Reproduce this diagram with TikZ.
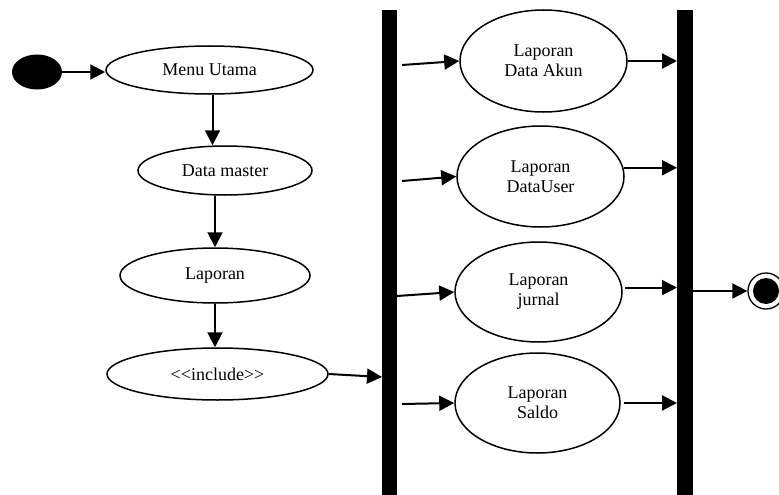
\documentclass[tikz,border=0pt]{standalone}
\usepackage{fontspec}
\setmainfont{Liberation Serif}
\usetikzlibrary{shapes.geometric,arrows.meta}
\begin{document}
\begin{tikzpicture}[x=1pt,y=-1pt,
  uc/.style={ellipse, draw, line width=1.5pt, inner sep=0pt, align=center,
    font=\fontsize{18}{20}\selectfont},
  arr/.style={line width=2pt, -{Triangle[length=15pt,width=15pt]}},
  barbox/.style={fill=black, inner sep=0pt, outer sep=0pt, minimum width=15pt, minimum height=485pt}]
\useasboundingbox[fill=white] (0,0) rectangle (779,495);
% start / end
\node[ellipse, fill=black, minimum width=50pt, minimum height=35pt, inner sep=0pt] (start) at (37,72) {};
\node[circle, draw, line width=1.3pt, minimum size=36pt, inner sep=0pt] (end) at (766,291) {};
\fill (end.center) circle (13);
% left column
\node[uc, minimum width=207pt, minimum height=48pt] (menu) at (209.5,70) {Menu Utama};
\node[uc, minimum width=174pt, minimum height=49pt] (master) at (225,170.5) {Data master};
\node[uc, minimum width=190pt, minimum height=55pt] (lap) at (215,275.5) {Laporan};
\node[uc, minimum width=221pt, minimum height=52pt] (incl) at (217.5,374) {<{}<include>{}>};
% bars
\node[barbox] (bar1) at (389.5,252.5) {};
\node[barbox, minimum width=16pt] (bar2) at (685,252.5) {};
% right column
\node[uc, minimum width=167pt, minimum height=102pt] (akun) at (543.5,61) {Laporan\\Data Akun};
\node[uc, minimum width=167pt, minimum height=101pt] (user) at (540.5,176.5) {Laporan\\DataUser};
\node[uc, minimum width=167pt, minimum height=100pt] (jurnal) at (538.5,292) {Laporan\\jurnal};
\node[uc, minimum width=165pt, minimum height=100pt] (saldo) at (537.5,403) {Laporan\\Saldo};
% free ends on bars
\coordinate (i1) at (382,377);
\coordinate (a1) at (402,65);
\coordinate (u1) at (402,181);
\coordinate (j1) at (397,296);
\coordinate (s1) at (402,404);
% connectors
\draw[arr] (start.east) -- (start.east -| menu.west);
\draw[arr] ([xshift=3pt]menu.south) -- ([xshift=3pt]menu.south |- master.north);
\draw[arr] (master.south -| lap.north) -- (lap.north);
\draw[arr] (lap.south) -- (lap.south |- incl.north);
\draw[arr] (incl.east) -- (i1);
\draw[arr] (a1) -- (akun.west);
\draw[arr] (u1) -- (user.west);
\draw[arr] (j1) -- (jurnal.west);
\draw[arr] (s1) -- (saldo.west);
\draw[arr] (akun.east) -- (akun.east -| bar2.west);
\draw[arr] (user.6) -- (user.6 -| bar2.west);
\draw[arr] ([xshift=3pt]jurnal.3) -- (jurnal.3 -| bar2.west);
\draw[arr] ([xshift=3pt]saldo.east) -- (saldo.east -| bar2.west);
\draw[arr] (bar2.east |- end.west) -- (end.west);
\end{tikzpicture}
\end{document}
